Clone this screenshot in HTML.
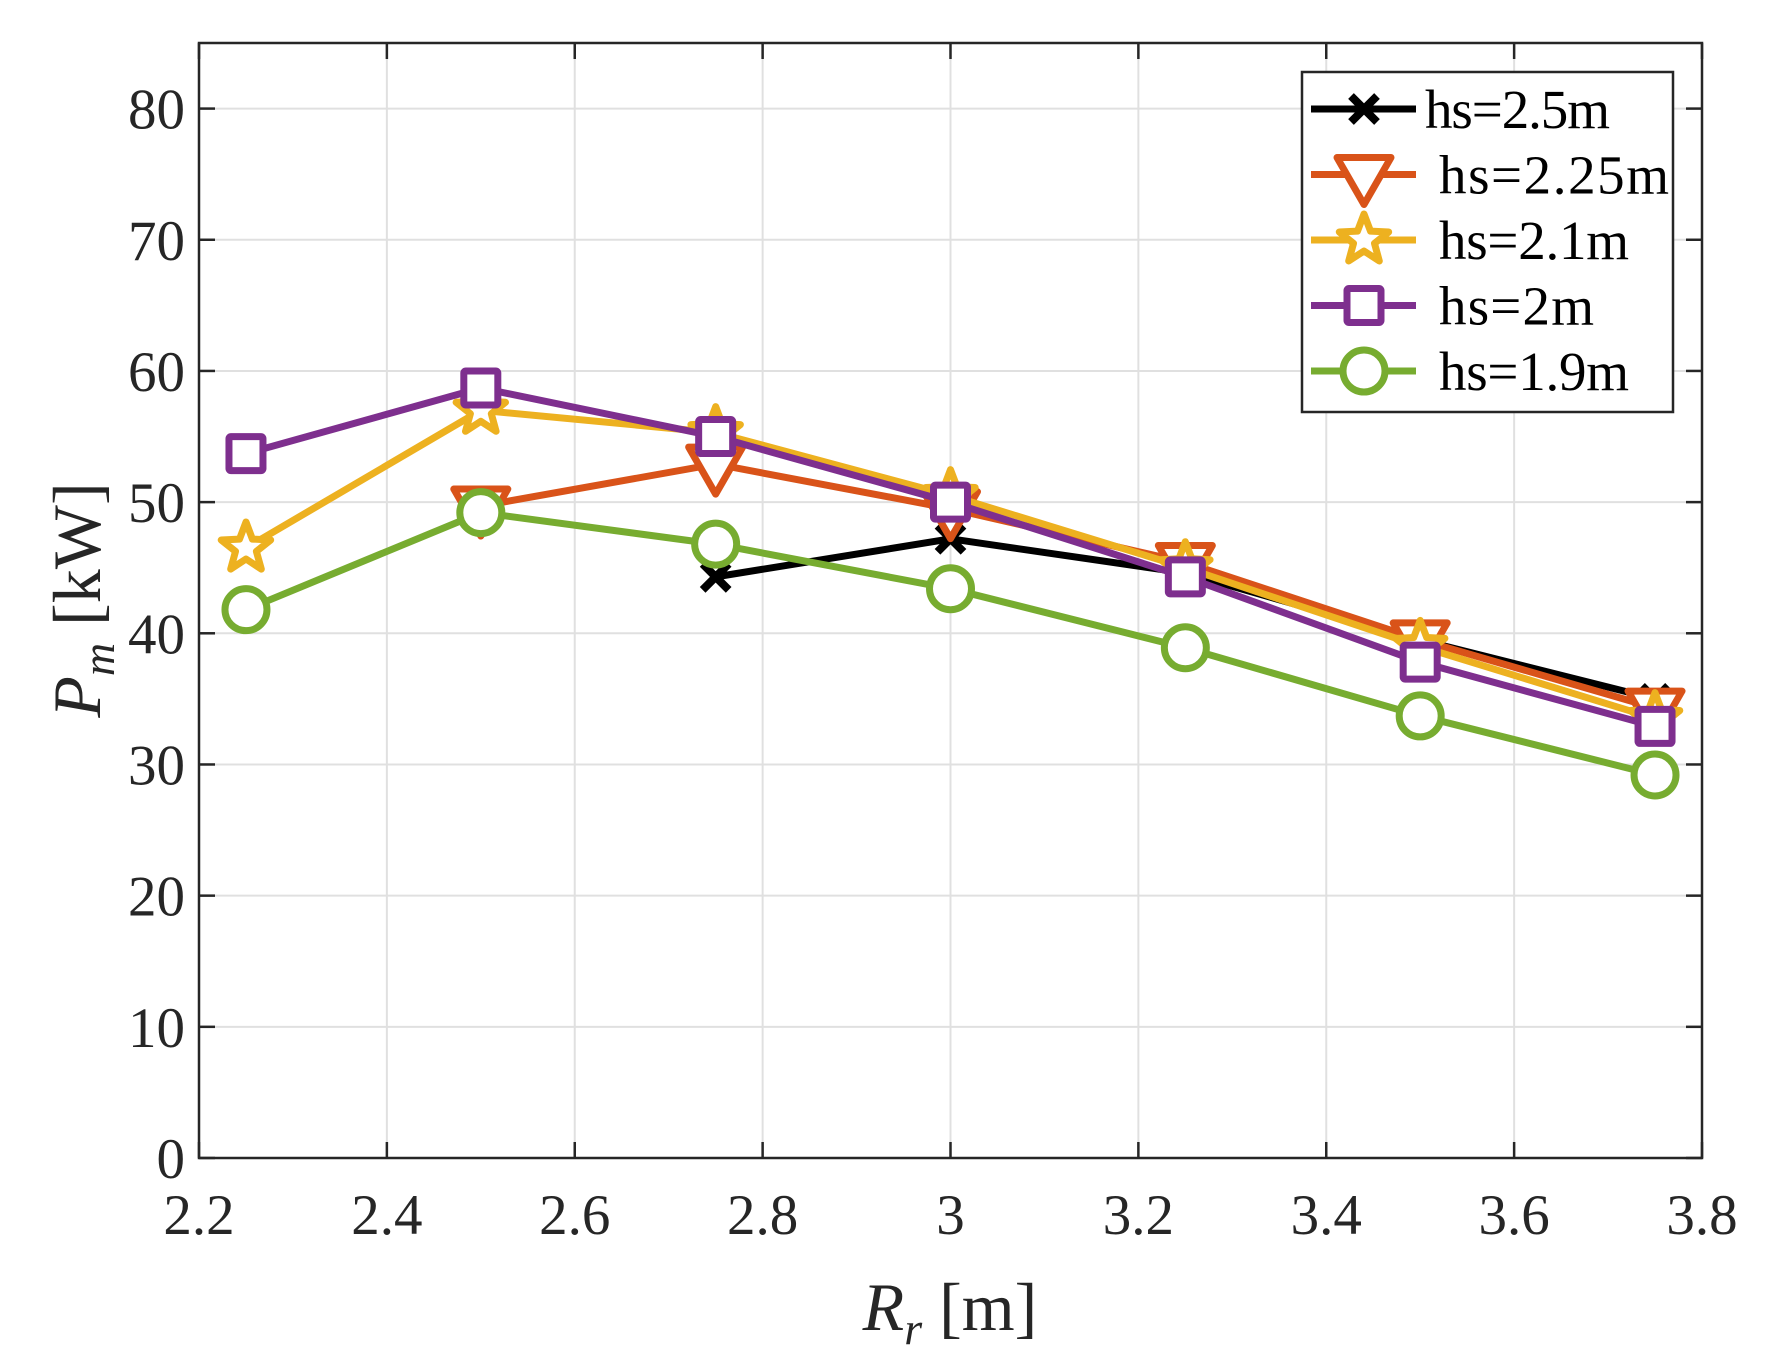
<!DOCTYPE html>
<html><head><meta charset="utf-8"><style>
html,body{margin:0;padding:0;background:#fff}
svg{display:block}
text{font-family:"Liberation Serif",serif;fill:#262626}
</style></head><body>
<svg id="s" width="1770" height="1360" xmlns="http://www.w3.org/2000/svg"></svg>
<script>
const s=document.getElementById('s');
const L=199,R=1702,T=43,B=1158;
const X=v=>L+(v-2.2)/1.6*(R-L), Y=v=>B-v/85*(B-T);
let h='';
for(let i=1;i<8;i++){const x=X(2.2+i*0.2);h+=`<line x1="${x}" y1="${T}" x2="${x}" y2="${B}" stroke="#e0e0e0" stroke-width="2"/>`;}
for(let v=10;v<=80;v+=10){const y=Y(v);h+=`<line x1="${L}" y1="${y}" x2="${R}" y2="${y}" stroke="#e0e0e0" stroke-width="2"/>`;}
for(let i=0;i<=8;i++){const x=X(2.2+i*0.2);h+=`<line x1="${x}" y1="${B}" x2="${x}" y2="${B-16}" stroke="#262626" stroke-width="2.5"/><line x1="${x}" y1="${T}" x2="${x}" y2="${T+16}" stroke="#262626" stroke-width="2.5"/>`;
 const lab=[2.2,2.4,2.6,2.8,3,3.2,3.4,3.6,3.8][i];h+=`<text x="${x}" y="${B+76}" font-size="57" text-anchor="middle">${lab}</text>`;}
for(let v=0;v<=80;v+=10){const y=Y(v);h+=`<line x1="${L}" y1="${y}" x2="${L+16}" y2="${y}" stroke="#262626" stroke-width="2.5"/><line x1="${R}" y1="${y}" x2="${R-16}" y2="${y}" stroke="#262626" stroke-width="2.5"/><text x="${L-14}" y="${y+20}" font-size="57" text-anchor="end">${v}</text>`;}
h+=`<rect x="${L}" y="${T}" width="${R-L}" height="${B-T}" fill="none" stroke="#262626" stroke-width="2.5"/>`;
const xs=[2.25,2.5,2.75,3,3.25,3.5,3.75];
const S=[
 {c:'#000000',m:'x',d:[null,null,44.3,47.2,44.6,39.5,35.0]},
 {c:'#D95319',m:'v',d:[null,49.7,52.9,49.5,45.4,39.5,34.3]},
 {c:'#EDB120',m:'*',d:[46.5,57.0,55.3,50.5,45.0,39.0,33.5]},
 {c:'#7E2F8E',m:'s',d:[53.7,58.7,55.0,50.0,44.3,37.8,32.9]},
 {c:'#77AC30',m:'o',d:[41.8,49.2,46.8,43.4,38.9,33.7,29.2]}];
function mk(m,x,y,c){
 if(m=='x')return `<path d="M${x-13},${y-13}L${x+13},${y+13}M${x-13},${y+13}L${x+13},${y-13}" stroke="${c}" stroke-width="8"/>`;
 if(m=='v')return `<polygon points="${x-27},${y-17} ${x+27},${y-17} ${x},${y+30}" fill="#fff" stroke="${c}" stroke-width="7" stroke-linejoin="round"/>`;
 if(m=='s')return `<rect x="${x-17}" y="${y-17}" width="34" height="34" fill="#fff" stroke="${c}" stroke-width="7" rx="2"/>`;
 if(m=='o')return `<circle cx="${x}" cy="${y}" r="21" fill="#fff" stroke="${c}" stroke-width="7"/>`;
 let p=[];for(let k=0;k<10;k++){const a=-Math.PI/2+k*Math.PI/5,r=k%2?11:26;p.push((x+r*Math.cos(a)).toFixed(1)+','+(y+r*Math.sin(a)).toFixed(1));}
 return `<polygon points="${p.join(' ')}" fill="#fff" stroke="${c}" stroke-width="7" stroke-linejoin="round"/>`;
}
S.forEach(se=>{const pts=[];se.d.forEach((v,i)=>{if(v!=null)pts.push([X(xs[i]),Y(v)]);});
 h+=`<polyline points="${pts.map(p=>p.join(',')).join(' ')}" fill="none" stroke="${se.c}" stroke-width="7" stroke-linejoin="round"/>`;
 pts.forEach(p=>h+=mk(se.m,p[0],p[1],se.c));});
h+=`<rect x="1302" y="72" width="371" height="340" fill="#fff" stroke="#262626" stroke-width="2.5"/>`;
const labs=['hs=2.5m','hs=2.25m','hs=2.1m','hs=2m','hs=1.9m'];
S.forEach((se,i)=>{const y=109+i*65.5;h+=`<line x1="1311" y1="${y}" x2="1416" y2="${y}" stroke="${se.c}" stroke-width="7"/>`+mk(se.m,1364,y,se.c)+`<text x="${i?1439:1425}" y="${y+19}" font-size="55" textLength="${[185,230,190,155,190][i]}" style="fill:#000">${labs[i]}</text>`;});
h+=`<text transform="translate(100,600) rotate(-90)" font-size="68" text-anchor="middle"><tspan font-style="italic">P</tspan><tspan font-style="italic" font-size="46" dy="14">m</tspan><tspan dy="-14"> [kW]</tspan></text>`;
h+=`<text x="950" y="1330" font-size="68" text-anchor="middle"><tspan font-style="italic">R</tspan><tspan font-style="italic" font-size="46" dy="14">r</tspan><tspan dy="-14"> [m]</tspan></text>`;
s.innerHTML=h;
</script>
</body></html>
